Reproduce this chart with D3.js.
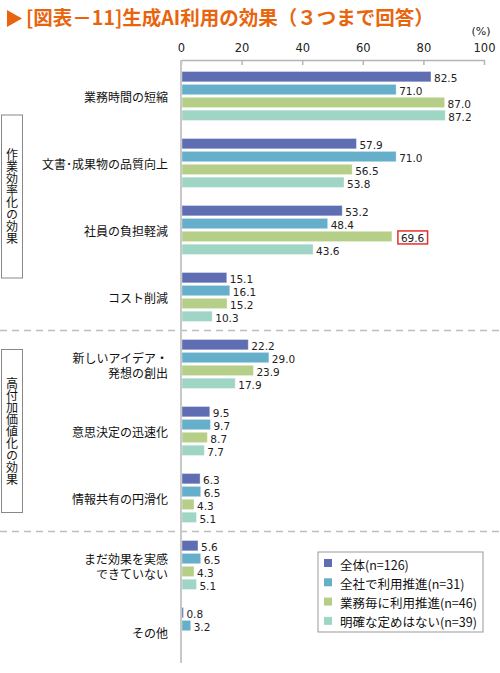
<!DOCTYPE html>
<html lang="ja">
<head>
<meta charset="utf-8">
<script src="https://cdn.jsdelivr.net/npm/d3@7"></script>
<style>
body { margin: 0; background: #fff; }
svg { display: block; font-family: "Noto Sans CJK JP", "Noto Sans", sans-serif; }
</style>
</head>
<body>
<div id="chart"></div>
<script>
// Chart data
const categories = [
    "業務時間の短縮",
    "文書･成果物の品質向上",
    "社員の負担軽減",
    "コスト削減",
    "新しいアイデア・\n発想の創出",
    "意思決定の迅速化",
    "情報共有の円滑化",
    "まだ効果を実感\nできていない",
    "その他"
];
const seriesNames = ["全体(n=126)", "全社で利用推進(n=31)", "業務毎に利用推進(n=46)", "明確な定めはない(n=39)"];
const seriesColors = ["#5f6db2", "#65afcb", "#b5cf88", "#9fd5c4"];
const allValues = [82.5, 57.9, 53.2, 15.1, 22.2, 9.5, 6.3, 5.6, 0.8];
const companyWide = [71.0, 71.0, 48.4, 16.1, 29.0, 9.7, 6.5, 6.5, 3.2];
const perTask = [87.0, 56.5, 69.6, 15.2, 23.9, 8.7, 4.3, 4.3, null];
const noRule = [87.2, 53.8, 43.6, 10.3, 17.9, 7.7, 5.1, 5.1, null];
const xTicks = [0, 20, 40, 60, 80, 100];
// group boxes on the left: label, first and last category index
const groups = [
    {label: "作業効率化の効果", from: 0, to: 3},
    {label: "高付加価値化の効果", from: 4, to: 6}
];
const separatorsAfter = [3, 6];
// the highlighted value (category index, series index)
const highlight = {cat: 2, ser: 2};

const width = 500, height = 673;
const seriesValues = [allValues, companyWide, perTask, noRule];
const numFont = "\"DejaVu Sans\", sans-serif";

let svg = d3.select("#chart").append("svg")
    .attr("width", width)
    .attr("height", height);

// Title
svg.append("path")
    .attr("d", "M7,10 L22,18.5 L7,27 Z")
    .attr("fill", "#e8650e");
svg.append("text")
    .attr("x", 26)
    .attr("y", 25)
    .attr("fill", "#e8650e")
    .style("font-size", "19.5px")
    .style("font-weight", "bold")
    .text("[図表－11]生成AI利用の効果（３つまで回答）");

// Scales
const x = d3.scaleLinear().domain([0, 100]).range([181, 484]);
const y = d3.scaleBand().domain(d3.range(categories.length)).range([62.5, 665.5]).padding(0);
const inner = d3.scaleBand().domain(d3.range(seriesNames.length)).range([-24.5, 24.5]).paddingInner(0.2);
const yc = i => y(i) + y.bandwidth() / 2;

// dashed separators across the whole width
separatorsAfter.forEach(function(i) {
    const sy = (yc(i) + yc(i + 1)) / 2;
    svg.append("line")
        .attr("x1", 0).attr("x2", width)
        .attr("y1", sy).attr("y2", sy)
        .attr("stroke", "#bdbdbd")
        .attr("stroke-width", 1.5)
        .attr("stroke-dasharray", "7,5");
});

// Top axis
const xAxis = svg.append("g")
    .attr("transform", "translate(0,60)")
    .call(d3.axisBottom(x).tickValues(xTicks).tickSize(5).tickSizeOuter(0).tickFormat(d3.format("d")));
xAxis.select(".domain").attr("stroke", "#b5b5b5").attr("stroke-width", 1.5);
xAxis.selectAll(".tick line").attr("stroke", "#b5b5b5").attr("stroke-width", 1.5);
xAxis.selectAll(".tick text")
    .attr("y", -8)
    .attr("dy", 0)
    .attr("fill", "#222")
    .style("font-size", "11.5px")
    .style("font-family", numFont);

svg.append("text")
    .attr("x", 481)
    .attr("y", 35)
    .attr("text-anchor", "middle")
    .attr("fill", "#222")
    .style("font-size", "11px")
    .style("font-family", numFont)
    .text("(%)");

// Bars
const barData = [];
categories.forEach(function(c, ci) {
    seriesValues.forEach(function(vals, si) {
        if (vals[ci] != null) barData.push({cat: ci, ser: si, value: vals[ci]});
    });
});

svg.selectAll(".bar")
    .data(barData)
    .join("rect")
    .attr("class", "bar")
    .attr("x", x(0) + 1)
    .attr("y", d => yc(d.cat) + inner(d.ser))
    .attr("width", d => Math.max(1, x(d.value) - x(0) - 1))
    .attr("height", inner.bandwidth())
    .attr("fill", d => seriesColors[d.ser])
    .attr("stroke", "#ffffff")
    .attr("stroke-opacity", 0.35)
    .attr("stroke-width", 1);

// vertical axis line
svg.append("line")
    .attr("x1", x(0)).attr("x2", x(0))
    .attr("y1", 60).attr("y2", 663)
    .attr("stroke", "#c8c8c8")
    .attr("stroke-width", 2);

// Value labels
const labels = svg.selectAll(".val")
    .data(barData)
    .join("text")
    .attr("class", "val")
    .attr("x", d => x(d.value) + (d.cat === highlight.cat && d.ser === highlight.ser ? 9 : 3))
    .attr("y", d => yc(d.cat) + inner(d.ser) + inner.bandwidth() / 2 + 1.5)
    .attr("dominant-baseline", "central")
    .attr("fill", "#222")
    .style("font-size", "10.5px")
    .style("font-family", numFont)
    .text(d => d.value.toFixed(1));

// red box round the highlighted value
labels.filter(d => d.cat === highlight.cat && d.ser === highlight.ser).each(function() {
    const b = this.getBBox();
    svg.append("rect")
        .attr("x", b.x - 3)
        .attr("y", b.y - 1)
        .attr("width", b.width + 6)
        .attr("height", b.height + 1)
        .attr("fill", "none")
        .attr("stroke", "#e8302a")
        .attr("stroke-width", 1.5);
});

// Category labels (two-line ones are drawn as separate lines)
categories.forEach(function(c, ci) {
    const lines = c.split("\n");
    lines.forEach(function(line, li) {
        svg.append("text")
            .attr("x", 168)
            .attr("y", yc(ci) + 2 + (li - (lines.length - 1) / 2) * 15)
            .attr("text-anchor", "end")
            .attr("dominant-baseline", "central")
            .attr("fill", "#111")
            .style("font-size", "12px")
            .style("font-family", "\"Liberation Sans\", \"Noto Sans CJK JP\", sans-serif")
            .text(line);
    });
});

// Group boxes with vertical text
groups.forEach(function(g) {
    const mid = (yc(g.from) + yc(g.to)) / 2;
    svg.append("rect")
        .attr("x", 1.5)
        .attr("y", mid - 81.5)
        .attr("width", 21)
        .attr("height", 163)
        .attr("fill", "#fff")
        .attr("stroke", "#888")
        .attr("stroke-width", 1);
    svg.append("text")
        .attr("x", 12)
        .attr("y", mid)
        .attr("text-anchor", "middle")
        .style("writing-mode", "vertical-rl")
        .attr("fill", "#111")
        .style("font-size", "12px")
        .text(g.label);
});

// Legend
const legend = svg.append("g").attr("transform", "translate(318,552)");
legend.append("rect")
    .attr("width", 165)
    .attr("height", 80)
    .attr("fill", "#fff")
    .attr("stroke", "#999")
    .attr("stroke-width", 1);
seriesNames.forEach(function(name, i) {
    const ly = 11 + i * 19.3;
    legend.append("rect")
        .attr("x", 6)
        .attr("y", ly - 4)
        .attr("width", 8)
        .attr("height", 8)
        .attr("fill", seriesColors[i]);
    legend.append("text")
        .attr("x", 22)
        .attr("y", ly + 1)
        .attr("dominant-baseline", "central")
        .attr("fill", "#111")
        .style("font-size", "12.5px")
        .text(name);
});
</script>
</body>
</html>
